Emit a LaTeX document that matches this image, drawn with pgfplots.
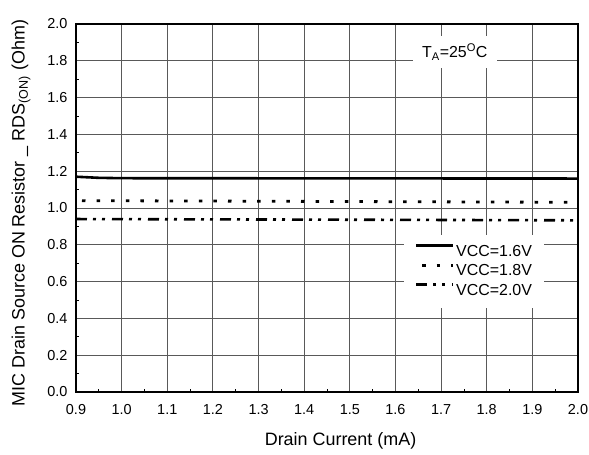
\documentclass[border=0pt]{standalone}
\usepackage{fontspec}
\setmainfont{Liberation Sans}
\usepackage{pgfplots}
\pgfplotsset{compat=1.18}
\begin{document}
\begin{tikzpicture}
\useasboundingbox (-76bp,-63bp) rectangle (513bp,392bp);
\begin{axis}[
  at={(0,0)}, anchor=south west,
  scale only axis, width=502bp, height=368bp,
  xmin=0.9, xmax=2.0, ymin=0, ymax=2.0,
  xtick={0.9,1.0,...,2.01}, ytick={0,0.2,...,2.01},
  minor x tick num=1, minor y tick num=1,
  tick pos=left, tick align=inside,
  major tick length=0bp, minor tick length=3.5bp,
  minor tick style={black, line width=0.8bp},
  grid=major,
  major grid style={black!65, line width=0.9bp},
  axis line style={black, line width=1.4bp},
  /pgf/number format/assume math mode=true,
  /pgf/number format/fixed,
  /pgf/number format/fixed zerofill,
  /pgf/number format/precision=1,
  tick label style={font=\fontsize{14.5}{17}\selectfont},
  xticklabel style={yshift=-9bp},
  yticklabel style={xshift=-5bp},
  xlabel={Drain Current (mA)},
  ylabel={MIC Drain Source ON Resistor \_ RDS\textsubscript{(ON)} (Ohm)},
  every axis x label/.style={at={(rel axis cs:0.527,0)}, yshift=-49bp, anchor=center, font=\fontsize{18}{21}\selectfont},
  every axis y label/.style={at={(rel axis cs:0,0.486)}, xshift=-55bp, rotate=90, anchor=center, font=\fontsize{18}{21}\selectfont},
  legend style={at={(axis cs:1.6187,0.853)}, anchor=north west, draw=none, fill=white,
    inner xsep=10.5bp, inner ysep=7.25bp, row sep=0bp,
    nodes={inner sep=1.75bp, text height=12bp, text depth=4bp},
    font=\fontsize{16}{19}\selectfont},
  legend cell align=left,
  legend image code/.code={\draw[#1] (0bp,6.5bp) -- (37bp,6.5bp);},
]
\addplot[black, line width=2.6bp] coordinates {(0.9,1.170) (0.95,1.164) (1.0,1.162) (1.5,1.161) (2.0,1.160)};
\addlegendentry{VCC=1.6V}
\addplot[black, line width=2.8bp, dash pattern=on 3.5bp off 11.1bp, dash phase=-6bp] coordinates {(0.9,1.040) (1.4,1.036) (2.0,1.031)};
\addlegendentry{VCC=1.8V}
\addplot[black, line width=2.6bp, dash pattern=on 11bp off 6bp on 3bp off 6bp on 3bp off 7bp] coordinates {(0.9,0.940) (1.4,0.937) (2.0,0.933)};
\addlegendentry{VCC=2.0V}
\node[fill=white, inner sep=0pt, minimum width=84bp, minimum height=32bp, font=\fontsize{16}{19}\selectfont] at (axis cs:1.730,1.848) {T\textsubscript{A}=25\textsuperscript{O}C};
\end{axis}
\end{tikzpicture}
\end{document}
